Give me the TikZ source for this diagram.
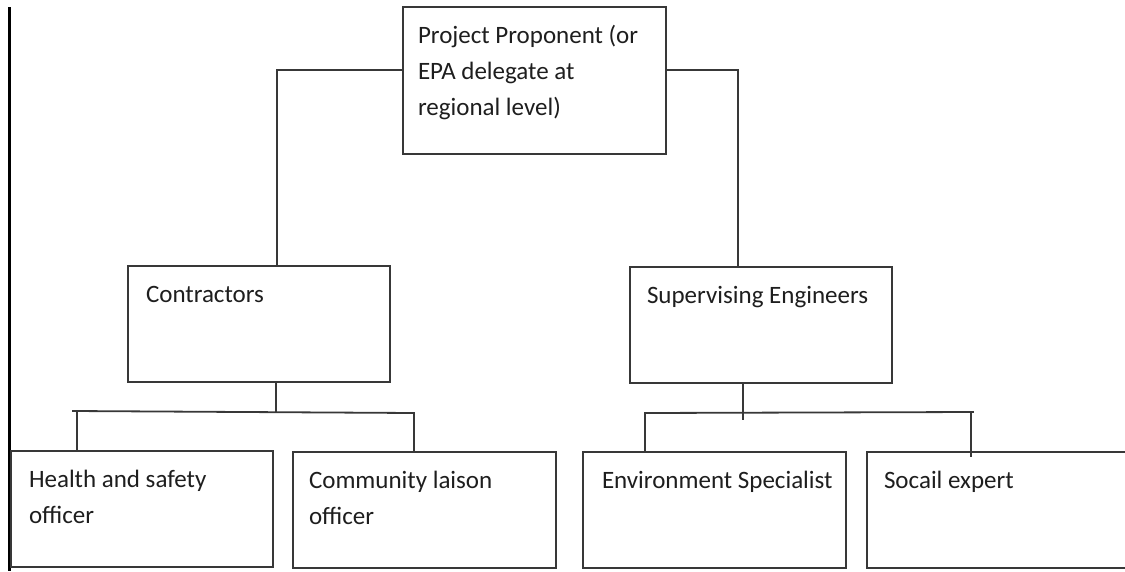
\documentclass[tikz,border=0pt]{standalone}
\usepackage{fontspec}
\setmainfont{Carlito}
\usetikzlibrary{calc}
\definecolor{linec}{HTML}{383838}
\definecolor{txtc}{HTML}{1E1E1E}
\begin{document}
\begin{tikzpicture}[x=1pt,y=-1pt,
  box/.style={draw=linec, line width=1.8pt, fill=none, inner sep=0pt, outer sep=0pt, anchor=north west},
  txt/.style={inner sep=0pt, outer sep=0pt, align=left, anchor=base west, text=txtc, font=\fontsize{25}{36}\selectfont},
  conn/.style={draw=linec, line width=1.8pt, line cap=rect}]
\useasboundingbox (0,0) rectangle (1125,571);
\clip (0,0) rectangle (1125,571);
\fill[white] (0,0) rectangle (1125,571);
% left rule
\coordinate (rt) at (9.5,7);
\coordinate (rb) at (9.5,571);
\draw[line width=2.6pt, black] (rt) -- (rb);
% boxes
\node[box, minimum width=263pt, minimum height=147pt] (pp) at (403,7) {};
\node[box, minimum width=262pt, minimum height=116pt] (con) at (128,266) {};
\node[box, minimum width=262pt, minimum height=116pt] (sup) at (630,267) {};
\node[box, minimum width=262pt, minimum height=116pt] (hs) at (11,451) {};
\node[box, minimum width=263pt, minimum height=116pt] (cl) at (293,452) {};
\node[box, minimum width=263pt, minimum height=116pt] (env) at (583,452) {};
\node[box, minimum width=270pt, minimum height=116pt] (soc) at (867,452) {};
% texts (base anchor = baseline of the last line)
\node[txt] (ppt) at ($(pp.north west)+(15,108)$) {Project Proponent (or\\EPA delegate at\\regional level)};
\node[txt] (cont) at ($(con.north west)+(18,36)$) {Contractors};
\node[txt] (supt) at ($(sup.north west)+(17,36)$) {Supervising Engineers};
\node[txt] (hst) at ($(hs.north west)+(18,72)$) {Health and safety\\officer};
\node[txt] (clt) at ($(cl.north west)+(16,72)$) {Community laison\\officer};
\node[txt] (envt) at ($(env.north west)+(19,36)$) {Environment Specialist};
\node[txt] (soct) at ($(soc.north west)+(17,36)$) {Socail expert};
% top connectors
\coordinate (tl) at (277,70);
\coordinate (tr) at (738,70);
\draw[conn] (pp.west |- tl) -- (tl) -- (tl |- con.north);
\draw[conn] (pp.east |- tr) -- (tr) -- (tr |- sup.north);
% contractors branch
\coordinate (cj) at (276,412);
\coordinate (hl) at (73,411);
\coordinate (hd) at (77,411);
\coordinate (hr) at (414,413);
\draw[conn] (cj |- con.south) -- (cj);
\draw[conn] (hl) -- (hr);
\draw[conn] (hd) -- (hd |- hs.north);
\draw[conn] (hr) -- (hr |- cl.north);
% supervising branch
\coordinate (sj) at (743,419);
\coordinate (sl) at (645,413);
\coordinate (sr) at (973,412);
\coordinate (sd) at (971,412);
\coordinate (sde) at (971,456);
\draw[conn] (sj |- sup.south) -- (sj);
\draw[conn] (sl) -- (sr);
\draw[conn] (sl) -- (sl |- env.north);
\draw[conn] (sd) -- (sde);
\end{tikzpicture}
\end{document}
